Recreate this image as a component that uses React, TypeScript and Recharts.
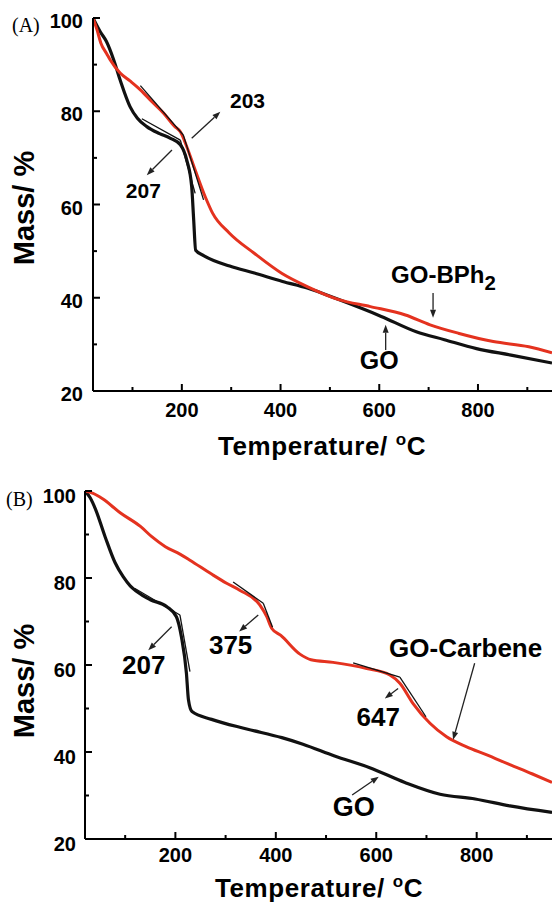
import React from 'react';
import { LineChart, Line, XAxis, YAxis, ReferenceLine, ReferenceDot } from 'recharts';

const SANS = '"Liberation Sans", Arial, Helvetica, sans-serif';
const SERIF = '"Liberation Serif", "Times New Roman", serif';
const RED = '#e4321f';

// panel A: GO vs GO-BPh2
const A_GO_T = [20, 35, 47, 62, 75, 95, 110, 129, 155, 177, 197, 210, 220, 224, 228, 245, 297, 347, 404, 454, 518, 604, 675, 732, 797, 867, 950];
const A_GO_M = [100, 97, 95, 91, 86.7, 81, 78.5, 76.7, 75.2, 74.2, 72.8, 69.5, 63.8, 56.7, 50.2, 49, 46.8, 45.3, 43.5, 42.1, 39.6, 36, 32.7, 31, 29.1, 27.7, 26];
const A_BPH_T = [20, 28, 36, 48, 55, 75, 95, 116, 140, 163, 185, 197, 210, 227, 248, 262, 296, 346, 403, 454, 518, 582, 653, 703, 760, 831, 903, 950];
const A_BPH_M = [100, 97.5, 94.6, 92.3, 91, 88.2, 86.5, 84.6, 82, 79.6, 76.8, 75.6, 72.4, 67.4, 61.5, 58.2, 53.9, 49.6, 45.2, 42.4, 39.6, 38.1, 36.3, 34.2, 32.4, 30.6, 29.5, 28.2];

// panel B: GO vs GO-Carbene
const B_GO_T = [20, 30, 41, 60, 80, 96, 110, 123, 150, 183, 202, 212, 222, 226, 233, 272, 342, 412, 454, 517, 587, 657, 727, 797, 866, 950];
const B_GO_M = [100, 98.5, 95.8, 89.5, 83.5, 80.3, 78.2, 76.9, 75, 73.4, 71.1, 66.5, 58.1, 52, 49.3, 47.5, 45.3, 43.3, 41.8, 39.1, 36.4, 33, 30.3, 29.2, 27.6, 26.1];
const B_CARB_T = [20, 35, 55, 90, 131, 153, 180, 209, 229, 272, 302, 328, 368, 382, 392, 410, 448, 470, 514, 581, 627, 647, 673, 707, 740, 780, 819, 866, 910, 950];
const B_CARB_M = [100, 99.5, 98.2, 95, 91.8, 89.5, 87.2, 85.5, 84.1, 80.9, 78.8, 77.2, 73.8, 71.1, 68.4, 66.8, 62.5, 61.2, 60.6, 59.2, 57.7, 55.8, 51.2, 46.6, 43.5, 41.2, 39.4, 37.1, 35, 33];

const X_TICKS = [100, 200, 300, 400, 500, 600, 700, 800, 900];
const X_LABELS = [200, 400, 600, 800];
const Y_TICKS = [20, 30, 40, 50, 60, 70, 80, 90, 100];
const Y_LABELS = [20, 40, 60, 80, 100];

// onset tangents and arrows, [t1, m1, t2, m2]
const A_TANGENTS = [
  [116, 85.5, 203, 74.9],
  [203, 74.9, 244, 61],
  [119, 78.4, 197, 73.8],
  [197, 73.8, 227, 62.4],
];
const A_ARROWS = [
  [220, 74.2, 278, 79.9],
  [180, 71.7, 129, 66.3],
  [709, 41, 709, 35.7],
  [613, 28.8, 613, 34.2],
];
const A_NOTES = [
  { text: '203', t: 333, m: 82.3, size: 21 },
  { text: '207', t: 122, m: 63.1, size: 21 },
  { text: 'GO-BPh', sub: '2', t: 624, m: 44.9, size: 24, anchor: 'start' },
  { text: 'GO', t: 600, m: 26.6, size: 25 },
];

const B_TANGENTS = [
  [119.5, 77.6, 209, 71.5],
  [209, 71.5, 229, 58.5],
  [315, 79.1, 375, 74.2],
  [375, 74.2, 393.5, 68.7],
  [554, 60.5, 647, 57.2],
  [647, 57.2, 699, 48.1],
];
const B_ARROWS = [
  [192.5, 68.8, 146, 63.4],
  [365, 71.5, 327, 67.7],
  [643.5, 54.6, 617, 52.3],
  [796, 60.4, 753, 42.8],
  [552, 30.1, 605, 34.3],
];
const B_NOTES = [
  { text: '207', t: 137, m: 60, size: 26 },
  { text: '375', t: 310, m: 64.6, size: 26 },
  { text: '647', t: 604, m: 48.1, size: 26 },
  { text: 'GO-Carbene', t: 778, m: 64, size: 26 },
  { text: 'GO', t: 555, m: 27.4, size: 27 },
];

const zip = (t: number[], m: number[]) => t.map((v, i) => ({ t: v, m: m[i] }));

const arrowShape = (p: any) => {
  const { x1, y1, x2, y2 } = p;
  const a = Math.atan2(y2 - y1, x2 - x1);
  const bx = x2 - 8 * Math.cos(a);
  const by = y2 - 8 * Math.sin(a);
  const w = 3;
  return (
    <g>
      <line x1={x1} y1={y1} x2={bx} y2={by} stroke="#222" strokeWidth={1.3} />
      <polygon
        points={`${x2},${y2} ${bx + w * Math.sin(a)},${by - w * Math.cos(a)} ${bx - w * Math.sin(a)},${by + w * Math.cos(a)}`}
        fill="#222"
      />
    </g>
  );
};

const makeXTick = (dy: number) => (props: any) => {
  const { x, y, payload } = props;
  const major = X_LABELS.includes(payload.value);
  return (
    <g>
      <line x1={x} x2={x} y1={y} y2={y - (major ? 7 : 4)} stroke="#000" strokeWidth={2} />
      {major && (
        <text x={x} y={y + dy} textAnchor="middle" fontFamily={SANS} fontWeight="bold" fontSize={20} fill="#000">
          {payload.value}
        </text>
      )}
    </g>
  );
};

const makeYTick = (gap: number, dy: number) => (props: any) => {
  const { x, y, payload } = props;
  const major = Y_LABELS.includes(payload.value);
  return (
    <g>
      <line x1={x} x2={x + (major ? 7 : 4)} y1={y} y2={y} stroke="#000" strokeWidth={2} />
      {major && (
        <text x={x - gap} y={y + dy} textAnchor="end" fontFamily={SANS} fontWeight="bold" fontSize={20} fill="#000">
          {payload.value}
        </text>
      )}
    </g>
  );
};

type Note = { text: string; sub?: string; t: number; m: number; size: number; anchor?: string };

function Panel(props: any) {
  const { width, height, margin, yWidth, xHeight, black, red, tangents, arrows, notes, tag, tagX, tagY, yTitleY, xTitleX, xTitleY, xDy, yGap, yDy } = props;
  return (
    <LineChart width={width} height={height} margin={margin}>
      <XAxis
        dataKey="t"
        type="number"
        domain={[20, 950]}
        allowDataOverflow
        ticks={X_TICKS}
        interval={0}
        height={xHeight}
        tickSize={0}
        tickMargin={0}
        tickLine={false}
        axisLine={{ stroke: '#000', strokeWidth: 2 }}
        tick={makeXTick(xDy)}
        label={() => (
          <text x={xTitleX} y={xTitleY} textAnchor="middle" fontFamily={SANS} fontWeight="bold" fontSize={26} letterSpacing={0.6} fill="#000">
            Temperature/ <tspan dy={-10} fontSize={17}>o</tspan>
            <tspan dy={10}>C</tspan>
          </text>
        )}
      />
      <XAxis xAxisId="top" orientation="top" type="number" domain={[20, 950]} height={0} tick={false} tickLine={false} axisLine={{ stroke: '#000', strokeWidth: 2 }} />
      <YAxis
        type="number"
        domain={[20, 100]}
        allowDataOverflow
        ticks={Y_TICKS}
        interval={0}
        width={yWidth}
        tickSize={0}
        tickMargin={0}
        tickLine={false}
        axisLine={{ stroke: '#000', strokeWidth: 2 }}
        tick={makeYTick(yGap, yDy)}
        label={() => (
          <g>
            <text x={tagX} y={tagY} fontFamily={SERIF} fontSize={20} fill="#000">
              {tag}
            </text>
            <text
              x={34}
              y={yTitleY}
              transform={`rotate(-90, 34, ${yTitleY})`}
              textAnchor="middle"
              fontFamily={SANS}
              fontWeight="bold"
              fontSize={29}
              fill="#000"
            >
              Mass/ %
            </text>
          </g>
        )}
      />
      <YAxis yAxisId="right" orientation="right" type="number" domain={[20, 100]} width={0} tick={false} tickLine={false} axisLine={{ stroke: '#000', strokeWidth: 2 }} />
      <Line data={black} dataKey="m" type="monotone" stroke="#111" strokeWidth={3.2} dot={false} isAnimationActive={false} />
      <Line data={red} dataKey="m" type="monotone" stroke={RED} strokeWidth={3} dot={false} isAnimationActive={false} />
      {tangents.map((s: number[], i: number) => (
        <ReferenceLine key={`tg${i}`} segment={[{ x: s[0], y: s[1] }, { x: s[2], y: s[3] }]} stroke="#111" strokeWidth={1.3} />
      ))}
      {arrows.map((s: number[], i: number) => (
        <ReferenceLine key={`ar${i}`} segment={[{ x: s[0], y: s[1] }, { x: s[2], y: s[3] }]} shape={arrowShape} />
      ))}
      {notes.map((n: Note, i: number) => (
        <ReferenceDot
          key={`nt${i}`}
          x={n.t}
          y={n.m}
          r={0}
          shape={(p: any) => (
            <text
              x={p.cx}
              y={p.cy}
              textAnchor={n.anchor || 'middle'}
              dominantBaseline="central"
              fontFamily={SANS}
              fontWeight="bold"
              fontSize={n.size}
              fill="#000"
            >
              {n.text}
              {n.sub && (
                <tspan dy={8} fontSize={n.size * 0.85}>
                  {n.sub}
                </tspan>
              )}
            </text>
          )}
        />
      ))}
    </LineChart>
  );
}

export default function App() {
  return (
    <div style={{ position: 'absolute', left: 0, top: 0, width: 554, height: 905, background: '#fff' }}>
      <div style={{ position: 'absolute', left: 0, top: 0 }}>
        <Panel
          width={554}
          height={460}
          margin={{ top: 18, right: 2, bottom: 0, left: 0 }}
          yWidth={93}
          xHeight={69}
          black={zip(A_GO_T, A_GO_M)}
          red={zip(A_BPH_T, A_BPH_M)}
          tangents={A_TANGENTS}
          arrows={A_ARROWS}
          notes={A_NOTES}
          tag="(A)"
          tagX={12}
          tagY={32}
          yTitleY={208}
          xTitleX={322}
          xTitleY={455}
          xDy={26}
          yGap={10}
          yDy={10}
        />
      </div>
      <div style={{ position: 'absolute', left: 0, top: 460 }}>
        <Panel
          width={554}
          height={445}
          margin={{ top: 31, right: 2, bottom: 0, left: 0 }}
          yWidth={85}
          xHeight={66}
          black={zip(B_GO_T, B_GO_M)}
          red={zip(B_CARB_T, B_CARB_M)}
          tangents={B_TANGENTS}
          arrows={B_ARROWS}
          notes={B_NOTES}
          tag="(B)"
          tagX={6}
          tagY={46}
          yTitleY={221}
          xTitleX={319}
          xTitleY={437}
          xDy={23}
          yGap={9}
          yDy={12}
        />
      </div>
    </div>
  );
}
